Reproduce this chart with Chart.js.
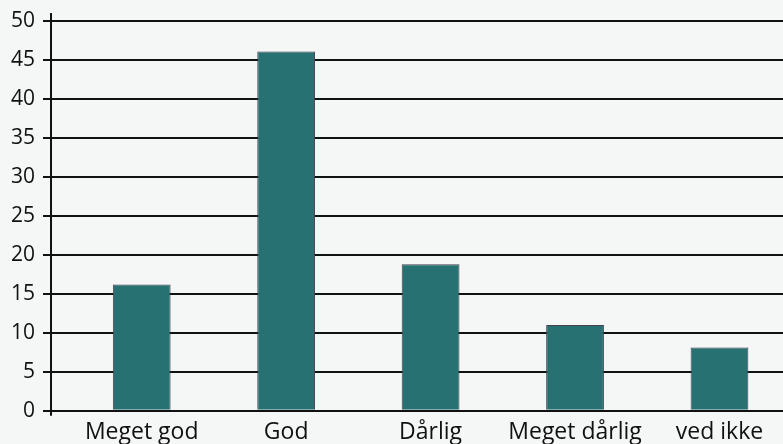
<!DOCTYPE html>
<html>
<head>
<meta charset="utf-8">
<script src="https://cdn.jsdelivr.net/npm/chart.js@4"></script>
<style>
  html, body { margin: 0; padding: 0; background: #f5f6f6; }
  canvas { display: block; }
</style>
</head>
<body>
<canvas id="ratingChart" width="783" height="444"></canvas>
<script>
// Data
var categories = ['Meget god', 'God', 'Dårlig', 'Meget dårlig', 'ved ikke'];
var values = [16.2, 46.1, 18.8, 11.0, 8.1];

// y axis line reaches a bit above 50 and below 0
var axisLinePlugin = {
    id: 'axisLine',
    afterLayout: function (chart) {
        // category band is shifted right of the y axis in the original
        var x = chart.scales.x;
        x.left = 69.5;
        x.right = 791.7;
        x.width = x.right - x.left;
        x.configure();
    },
    afterDatasetsDraw: function (chart) {
        var ctx = chart.ctx;
        var left = chart.chartArea.left;
        ctx.save();
        ctx.strokeStyle = '#111';
        ctx.lineWidth = 2;
        ctx.beginPath();
        ctx.moveTo(left, chart.chartArea.top - 8);
        ctx.lineTo(left, chart.chartArea.bottom + 5);
        ctx.stroke();
        ctx.restore();
    }
};

var ctx = document.getElementById('ratingChart').getContext('2d');
var ratingChart = new Chart(ctx, {
    type: 'bar',
    data: {
        labels: categories,
        datasets: [{
            data: values,
            backgroundColor: '#277172',
            borderColor: '#45414f',
            borderWidth: 1,
            barPercentage: 0.4,
            categoryPercentage: 1.0
        }]
    },
    options: {
        responsive: false,
        animation: false,
        layout: {
            padding: { left: 3, top: 21, right: 0, bottom: -10 }
        },
        plugins: {
            legend: { display: false },
            tooltip: { enabled: false }
        },
        scales: {
            y: {
                min: 0,
                max: 50,
                ticks: {
                    stepSize: 5,
                    padding: 8,
                    color: '#111',
                    font: { family: 'Open Sans', size: 21 }
                },
                grid: {
                    color: '#111',
                    lineWidth: 2,
                    tickLength: 8
                },
                border: { display: false }
            },
            x: {
                ticks: {
                    padding: 9,
                    color: '#111',
                    font: { family: 'Open Sans', size: 23, lineHeight: 1.1 }
                },
                grid: { display: false, drawTicks: false },
                border: { display: false }
            }
        }
    },
    plugins: [axisLinePlugin]
});
</script>
</body>
</html>
